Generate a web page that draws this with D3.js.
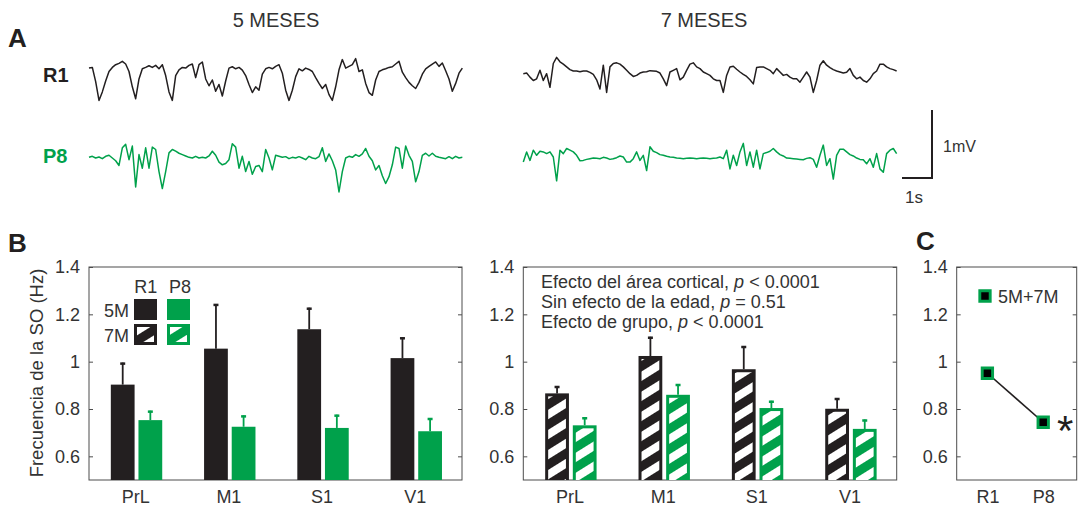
<!DOCTYPE html>
<html>
<head>
<meta charset="utf-8">
<script src="https://cdn.jsdelivr.net/npm/d3@7"></script>
<style>
  body { margin: 0; background: #fff; }
  svg { font-family: "Liberation Sans", Arial, sans-serif; display: block; }
</style>
</head>
<body>
<svg id="fig" width="1085" height="508"></svg>
<script>
// ---- data ----
const regions = ['PrL', 'M1', 'S1', 'V1'];
const groups = ['R1', 'P8'];
const yTicks = [0.6, 0.8, 1, 1.2, 1.4];
const yTickLabels = ['0.6', '0.8', '1', '1.2', '1.4'];

// SO frequency (Hz), mean and SEM per region
const r1Mean5M = [0.903, 1.055, 1.137, 1.015];
const r1Sem5M = [0.093, 0.189, 0.091, 0.088];
const p8Mean5M = [0.753, 0.725, 0.720, 0.706];
const p8Sem5M = [0.040, 0.048, 0.056, 0.056];
const r1Mean7M = [0.866, 1.024, 0.968, 0.801];
const r1Sem7M = [0.031, 0.081, 0.098, 0.045];
const p8Mean7M = [0.731, 0.860, 0.804, 0.716];
const p8Sem7M = [0.034, 0.046, 0.031, 0.040];

// panel C: 5M+7M pooled
const pooledGroups = ['R1', 'P8'];
const pooledMean = [0.951, 0.744];

const statLines = [
  ['Efecto del área cortical, ', 'p', ' < 0.0001'],
  ['Sin efecto de la edad, ', 'p', ' = 0.51'],
  ['Efecto de grupo, ', 'p', ' < 0.0001']
];

// LFP traces (µV), one sample every 1/9 s
const sampleDt = 1 / 9;
const r1Trace5M = [175,185,-25,-300,-175,-15,125,185,225,245,275,235,125,-100,-275,15,165,185,210,185,
  215,165,225,65,-175,-300,65,150,185,175,215,235,35,225,265,15,-85,0,-165,-65,
  -235,-15,175,195,165,185,145,65,-65,-185,-100,-150,85,165,185,165,200,225,100,-150,
  -300,-150,50,165,135,175,155,125,35,-50,-125,-65,-215,-300,-100,150,300,175,200,225,
  315,125,150,-50,-185,-225,0,125,150,165,185,195,235,275,115,35,-35,-85,-125,-35,
  85,165,200,235,265,200,250,135,15,-165,-50,100,175];
const p8Trace5M = [10,25,0,15,-10,25,40,0,-40,-110,150,200,-25,175,-425,50,-150,150,-150,160,
  125,-200,-450,-200,75,125,100,70,50,30,10,0,25,0,10,0,30,100,40,-60,
  -100,-80,-25,210,160,-150,25,-200,-50,-240,-125,-110,-200,125,0,-175,40,25,10,20,
  -10,10,0,20,0,-25,25,0,-10,20,150,-50,60,-40,-175,-500,-200,0,25,10,
  50,25,60,140,25,-40,-175,-110,-260,-375,-275,-100,160,140,-150,175,40,-50,-350,-200,
  40,70,30,70,25,10,0,-10,20,-10,25,0,10];
const r1Trace7M = [-25,-15,-75,-125,-100,25,-125,-25,-225,125,215,150,115,75,35,15,15,5,15,15,
  -5,-35,-115,-250,100,-300,75,125,135,115,75,25,-25,-65,-50,-15,0,5,20,15,
  10,-15,-100,-200,0,25,50,-115,-75,25,115,135,75,50,0,-25,-50,-100,-125,-125,
  -300,-50,75,85,40,0,-35,-65,-115,-175,65,75,75,50,25,-25,50,0,-50,-35,
  -75,-100,-100,-150,-75,0,-75,-300,-125,100,165,100,65,35,15,0,-15,-5,50,-50,
  -100,-75,-125,-150,-100,-25,15,115,115,75,50,35,15];
const p8Trace7M = [-75,75,-50,100,25,85,75,50,75,0,-350,100,50,125,100,75,25,-55,-50,-35,
  -25,-15,-20,-25,-5,-15,-35,-25,-10,15,0,-75,-75,-25,75,-50,25,-200,150,85,
  65,35,25,10,0,-5,-15,-20,-25,-20,-15,-20,-25,-20,-15,-20,-25,-20,-15,0,
  -25,100,-175,25,-125,75,200,-125,75,-150,100,-175,50,65,85,125,75,35,15,-15,
  -20,-25,-30,-35,-40,-20,-10,-35,-150,25,175,-125,-25,-325,25,115,115,75,35,15,
  -15,-35,-40,-100,-25,-150,50,-175,-225,50,100,125,50];

// ---- styles ----
const ink = '#231f20';
const green = '#00a14b';
const axisInk = '#4d4d4d';
const textInk = '#333';

const svg = d3.select('#fig');
const defs = svg.append('defs');

// diagonal hatch for the 7M bars
[['R1', ink], ['P8', green]].forEach(([g, c]) => {
  const p = defs.append('pattern')
    .attr('id', 'hatch-' + g)
    .attr('patternUnits', 'userSpaceOnUse')
    .attr('width', 8).attr('height', 17)
    .attr('patternTransform', 'rotate(-32)');
  p.append('rect').attr('width', 8).attr('height', 17).attr('fill', '#fff');
  p.append('rect').attr('width', 8).attr('height', 9).attr('fill', c);
});

// ---- panel A: traces ----
const pxPerSec = 30, pxPerMv = 68;
const traces = [
  { data: r1Trace5M, x0: 89, cy: 80, color: ink },
  { data: p8Trace5M, x0: 89, cy: 158, color: green },
  { data: r1Trace7M, x0: 523.3, cy: 72, color: ink },
  { data: p8Trace7M, x0: 523.3, cy: 157, color: green }
];
traces.forEach(tr => {
  const tx = d3.scaleLinear().domain([0, 1]).range([tr.x0, tr.x0 + pxPerSec]);
  const vy = d3.scaleLinear().domain([0, 1000]).range([tr.cy, tr.cy - pxPerMv]);
  const line = d3.line().x((d, i) => tx(i * sampleDt)).y(d => vy(d));
  svg.append('path').datum(tr.data)
    .attr('d', line)
    .attr('fill', 'none')
    .attr('stroke', tr.color)
    .attr('stroke-width', 1.5)
    .attr('stroke-linejoin', 'round');
});

// scale bar: 1 s / 1 mV
const sbX = d3.scaleLinear().domain([0, 1]).range([902, 902 + pxPerSec]);
const sbY = d3.scaleLinear().domain([0, 1]).range([178, 178 - pxPerMv]);
svg.append('path')
  .attr('d', `M${sbX(0)},${sbY(0)}H${sbX(1)}V${sbY(1)}`)
  .attr('fill', 'none').attr('stroke', ink).attr('stroke-width', 2);
svg.append('text').attr('x', 943).attr('y', 152).attr('font-size', 16).attr('fill', textInk).text('1mV');
svg.append('text').attr('x', 905).attr('y', 203).attr('font-size', 17).attr('fill', textInk).text('1s');

svg.append('text').attr('x', 276).attr('y', 27).attr('text-anchor', 'middle')
  .attr('font-size', 20).attr('fill', textInk).text('5 MESES');
svg.append('text').attr('x', 704).attr('y', 27).attr('text-anchor', 'middle')
  .attr('font-size', 20).attr('fill', textInk).text('7 MESES');
svg.append('text').attr('x', 43).attr('y', 82).attr('font-size', 20).attr('font-weight', 'bold')
  .attr('fill', ink).text('R1');
svg.append('text').attr('x', 43).attr('y', 163).attr('font-size', 20).attr('font-weight', 'bold')
  .attr('fill', green).text('P8');

// panel letters
[['A', 8, 47], ['B', 8, 252], ['C', 916, 250]].forEach(([t, x, yy]) => {
  svg.append('text').attr('x', x).attr('y', yy).attr('font-size', 26)
    .attr('font-weight', 'bold').attr('fill', ink).text(t);
});

// ---- shared axes ----
const plotTop = 267, plotBottom = 480;
const y = d3.scaleLinear().domain([0.5, 1.4]).range([plotBottom, plotTop]);

function frame(left, right, xAxis, id) {
  const g = svg.append('g');
  g.append('g').attr('transform', `translate(${left},0)`)
    .call(d3.axisLeft(y).tickValues(yTicks).tickFormat((d, i) => yTickLabels[i])
      .tickSize(-4).tickPadding(9))
    .call(a => a.select('.domain').remove());
  g.append('g').attr('transform', `translate(${right},0)`)
    .call(d3.axisRight(y).tickValues(yTicks).tickFormat('').tickSize(-4))
    .call(a => a.select('.domain').remove());
  g.append('g').attr('transform', `translate(0,${plotBottom})`)
    .call(xAxis.tickSize(0).tickPadding(10))
    .call(a => a.select('.domain').remove());
  g.selectAll('.tick line').attr('stroke', axisInk);
  g.selectAll('.tick text').attr('font-size', 18).attr('fill', textInk)
    .attr('font-family', '"Liberation Sans", Arial, sans-serif');
  g.append('rect').attr('x', left).attr('y', plotTop)
    .attr('width', right - left).attr('height', plotBottom - plotTop)
    .attr('fill', 'none').attr('stroke', axisInk).attr('stroke-width', 1);
  defs.append('clipPath').attr('id', id).append('rect')
    .attr('x', left).attr('y', plotTop).attr('width', right - left).attr('height', plotBottom - plotTop);
  return g;
}

function barPanel(left, right, means, sems, hatched, id) {
  const x0 = d3.scaleBand().domain(regions).range([left, right]);
  const x1 = d3.scaleBand().domain(groups).range([-24.8, 26.6]).paddingInner(0.14);
  const g = frame(left, right, d3.axisBottom(x0), id);
  const colors = { R1: ink, P8: green };
  const rows = [];
  regions.forEach((r, i) => groups.forEach(gr => {
    rows.push({ r, g: gr, v: means[gr][i], e: sems[gr][i] });
  }));
  const bars = g.append('g').attr('clip-path', `url(#${id})`);
  rows.forEach(d => {
    const bx = x0(d.r) + x0.bandwidth() / 2 + x1(d.g);
    const w = x1.bandwidth();
    const mid = bx + w / 2;
    // error bar (upper only)
    bars.append('line').attr('x1', mid).attr('x2', mid)
      .attr('y1', y(d.v)).attr('y2', y(d.v + d.e))
      .attr('stroke', colors[d.g]).attr('stroke-width', 1.8);
    bars.append('line').attr('x1', mid - 2.5).attr('x2', mid + 2.5)
      .attr('y1', y(d.v + d.e) + 1).attr('y2', y(d.v + d.e) + 1)
      .attr('stroke', colors[d.g]).attr('stroke-width', 2.5);
    if (hatched) {
      bars.append('rect').attr('x', bx + 1.5).attr('y', y(d.v) + 1.5)
        .attr('width', w - 3).attr('height', plotBottom + 3 - y(d.v) - 1.5)
        .attr('fill', `url(#hatch-${d.g})`)
        .attr('stroke', colors[d.g]).attr('stroke-width', 3);
    } else {
      bars.append('rect').attr('x', bx).attr('y', y(d.v))
        .attr('width', w).attr('height', plotBottom - y(d.v))
        .attr('fill', colors[d.g]);
    }
  });
  return g;
}

// ---- panel B ----
barPanel(89, 462, { R1: r1Mean5M, P8: p8Mean5M }, { R1: r1Sem5M, P8: p8Sem5M }, false, 'clipB1');
barPanel(523.3, 896.7, { R1: r1Mean7M, P8: p8Mean7M }, { R1: r1Sem7M, P8: p8Sem7M }, true, 'clipB2');

svg.append('text')
  .attr('transform', 'translate(43,373) rotate(-90)')
  .attr('text-anchor', 'middle').attr('font-size', 18.5).attr('fill', textInk)
  .text('Frecuencia de la SO (Hz)');

// legend inside left bar panel
const legend = svg.append('g').attr('font-size', 18).attr('fill', textInk);
legend.append('text').attr('x', 145.7).attr('y', 293).attr('text-anchor', 'middle').text('R1');
legend.append('text').attr('x', 180).attr('y', 293).attr('text-anchor', 'middle').text('P8');
legend.append('text').attr('x', 129).attr('y', 317).attr('text-anchor', 'end').text('5M');
legend.append('text').attr('x', 129).attr('y', 342).attr('text-anchor', 'end').text('7M');
[['R1', 134, ink], ['P8', 167, green]].forEach(([g, lx, c]) => {
  legend.append('rect').attr('x', lx).attr('y', 299).attr('width', 23).attr('height', 21).attr('fill', c);
  legend.append('rect').attr('x', lx + 1.5).attr('y', 325.5).attr('width', 20).attr('height', 18)
    .attr('fill', `url(#hatch-${g})`).attr('stroke', c).attr('stroke-width', 3);
});

// stats text in the 7M panel
const stats = svg.append('g').attr('font-size', 18).attr('fill', textInk);
statLines.forEach((parts, i) => {
  const t = stats.append('text').attr('x', 541).attr('y', 288 + i * 20);
  t.append('tspan').text(parts[0]);
  t.append('tspan').attr('font-style', 'italic').text(parts[1]);
  t.append('tspan').text(parts[2]);
});

// ---- panel C ----
const xC = d3.scaleLinear().domain([0.45, 2.6]).range([956.7, 1076.7]);
frame(956.7, 1076.7,
  d3.axisBottom(xC).tickValues([1, 2]).tickFormat((d, i) => pooledGroups[i]), 'clipC');

const cPts = pooledMean.map((v, i) => [xC(i + 1), y(v)]);
svg.append('path').attr('d', d3.line()(cPts))
  .attr('fill', 'none').attr('stroke', ink).attr('stroke-width', 1.6);
const square = d3.symbol(d3.symbolSquare, 108);
cPts.forEach(p => {
  svg.append('path').attr('d', square).attr('transform', `translate(${p[0]},${p[1]})`)
    .attr('fill', '#000').attr('stroke', green).attr('stroke-width', 2.9);
});
svg.append('path').attr('d', square).attr('transform', 'translate(985,296)')
  .attr('fill', '#000').attr('stroke', green).attr('stroke-width', 2.9);
svg.append('text').attr('x', 998).attr('y', 302.5).attr('font-size', 18).attr('fill', textInk).text('5M+7M');
svg.append('text').attr('x', cPts[1][0] + 22).attr('y', cPts[1][1] + 23)
  .attr('text-anchor', 'middle').attr('font-size', 42).attr('fill', ink).text('*');
</script>
</body>
</html>
